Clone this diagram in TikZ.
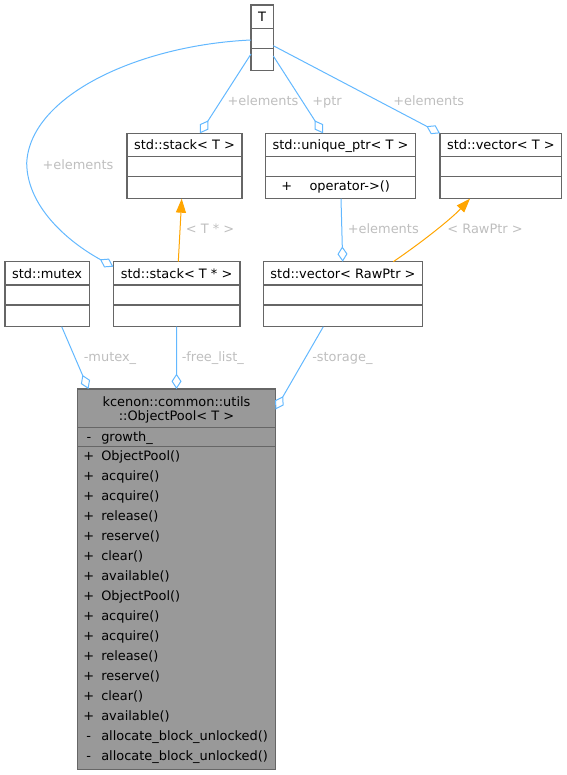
\documentclass[tikz,border=0pt]{standalone}
\usepackage{fontspec}
\setmainfont{DejaVu Sans}
\usetikzlibrary{arrows.meta,calc}
\definecolor{edgeblue}{HTML}{63B8FF}
\definecolor{edgeorange}{HTML}{FFA500}
\definecolor{labelgray}{HTML}{BEBEBE}
\definecolor{boxgray}{HTML}{666666}
\definecolor{poolgray}{HTML}{999999}
\tikzset{
  classbox/.style 2 args={draw=boxgray, line width=0.8pt, fill=white, anchor=north west,
    inner sep=0pt, outer sep=0pt, minimum width=#1*0.75pt, minimum height=#2*0.75pt},
  divider/.style={boxgray, line width=0.8pt},
  boxtext/.style={inner sep=0pt, text height=7.2pt, text depth=0pt},
  edgelabel/.style={boxtext, labelgray},
  member/.style={edgeblue, line width=0.75pt, -{Diamond[open,length=11.5pt,width=7.5pt]}},
  inherit/.style={edgeorange, line width=0.75pt, -{Triangle[length=10.5pt,width=7.5pt]}},
}
\begin{document}
\begin{tikzpicture}[x=0.75pt, y=-0.75pt, font=\fontsize{9.7}{11.6}\selectfont]
    \useasboundingbox (0,0) rectangle (567,775);
    % class boxes
    \node[classbox={22.3}{65.7}] (T) at (251,5) {};
    \node[classbox={115}{65.4}] (stackT) at (127,133.3) {};
    \node[classbox={149.6}{65.4}] (uptr) at (265.7,133.3) {};
    \node[classbox={121.7}{65.4}] (vecT) at (440,133.3) {};
    \node[classbox={84.3}{65}] (mutex) at (5,261.7) {};
    \node[classbox={126.7}{65}] (stackP) at (113.3,261.7) {};
    \node[classbox={159.4}{65}] (vecR) at (263.3,261.7) {};
    \node[classbox={198}{380.3}, fill=poolgray] (pool) at (77.5,389) {};
    \foreach \b in {T,stackT,uptr,vecT,mutex,stackP,vecR}
      \draw[divider] ($(\b.north west)+(0,23.3)$) -- ($(\b.north east)+(0,23.3)$)
                     ($(\b.north west)+(0,43.3)$) -- ($(\b.north east)+(0,43.3)$);
    \draw[divider] ($(pool.north west)+(0,38.3)$) -- ($(pool.north east)+(0,38.3)$)
                   ($(pool.north west)+(0,57.7)$) -- ($(pool.north east)+(0,57.7)$);
    % titles
    \node[boxtext] (T-title) at ($(T.north)+(0,11.7)$) {T};
    \node[boxtext] (stackT-title) at ($(stackT.north)+(0,11.7)$) {std::stack< T >};
    \node[boxtext] (uptr-title) at ($(uptr.north)+(0,11.7)$) {std::unique\_ptr< T >};
    \node[boxtext] (vecT-title) at ($(vecT.north)+(0,11.7)$) {std::vector< T >};
    \node[boxtext] (mutex-title) at ($(mutex.north)+(0,11.5)$) {std::mutex};
    \node[boxtext] (stackP-title) at ($(stackP.north)+(0,11.5)$) {std::stack< T * >};
    \node[boxtext] (vecR-title) at ($(vecR.north)+(0,11.5)$) {std::vector< RawPtr >};
    \node[boxtext] (pool-title1) at ($(pool.north)+(0,12.7)$) {kcenon::common::utils};
    \node[boxtext] (pool-title2) at ($(pool.north)+(0,26.7)$) {::ObjectPool< T >};
    % members
    \node[boxtext] (uptr-vis) at (286.7,186) {+};
    \node[boxtext, anchor=west] (uptr-op) at (309.3,186) {operator->()};
    \node[boxtext] (pool-vis) at (89,436.7) {-};
    \node[boxtext, anchor=west] (pool-growth) at (101,436.7) {growth\_};
    \foreach \s/\m [count=\i from 0] in {+/ObjectPool(), +/acquire(), +/acquire(), +/release(),
        +/reserve(), +/clear(), +/available(), +/ObjectPool(), +/acquire(), +/acquire(),
        +/release(), +/reserve(), +/clear(), +/available(),
        -/allocate\_block\_unlocked(), -/allocate\_block\_unlocked()}{
      \node[boxtext] (pool-vis\i) at (88.7,{456+20*\i}) {\s};
      \node[boxtext, anchor=west] (pool-m\i) at (101,{456+20*\i}) {\m};
    }
    % connectors
    \draw[member] ($(T.north west)+(0,49)$) -- ($(stackT.north west)+(73,0)$);
    \draw[member] ($(T.north east)+(0,51)$) -- ($(uptr.north west)+(57.3,0)$);
    \draw[member] ($(T.north east)+(0,40.7)$) -- (vecT.north west);
    \draw[member] ($(T.north west)+(0,35)$) .. controls (140,45) and (30,95) .. (26.7,163)
                  .. controls (27,205) and (65,240) .. ($(stackP.north west)+(0,5)$);
    \draw[inherit] ($(stackP.north west)+(65,0)$) -- ($(stackT.south west)+(54.7,0)$);
    \draw[member] ($(uptr.south west)+(75.3,0)$) -- ($(vecR.north west)+(79.4,0)$);
    \draw[inherit] ($(vecR.north west)+(130,0)$) .. controls (425,240) and (452,218)
                   .. ($(vecT.south west)+(30,0)$);
    \draw[member] ($(mutex.south west)+(56.7,0)$) -- ($(pool.north west)+(11,0)$);
    \draw[member] (stackP.south) -- (pool.north);
    \draw[member] ($(vecR.south west)+(60,0)$) -- ($(pool.north east)+(0,20.5)$);
    % edge labels
    \node[edgelabel] (lab-stackP) at (78,165) {+elements};
    \node[edgelabel] (lab-stackT) at (263,100.7) {+elements};
    \node[edgelabel] (lab-uptr) at (327,100.7) {+ptr};
    \node[edgelabel] (lab-vecT) at (428.7,100.7) {+elements};
    \node[edgelabel] (lab-tstar) at (210,229) {< T * >};
    \node[edgelabel] (lab-vecR) at (383.3,228.3) {+elements};
    \node[edgelabel] (lab-rawptr) at (485,228.3) {< RawPtr >};
    \node[edgelabel] (lab-mutex) at (110,356.7) {-mutex\_};
    \node[edgelabel] (lab-free) at (212.8,356.7) {-free\_list\_};
    \node[edgelabel] (lab-storage) at (342.4,356.7) {-storage\_};
\end{tikzpicture}
\end{document}
